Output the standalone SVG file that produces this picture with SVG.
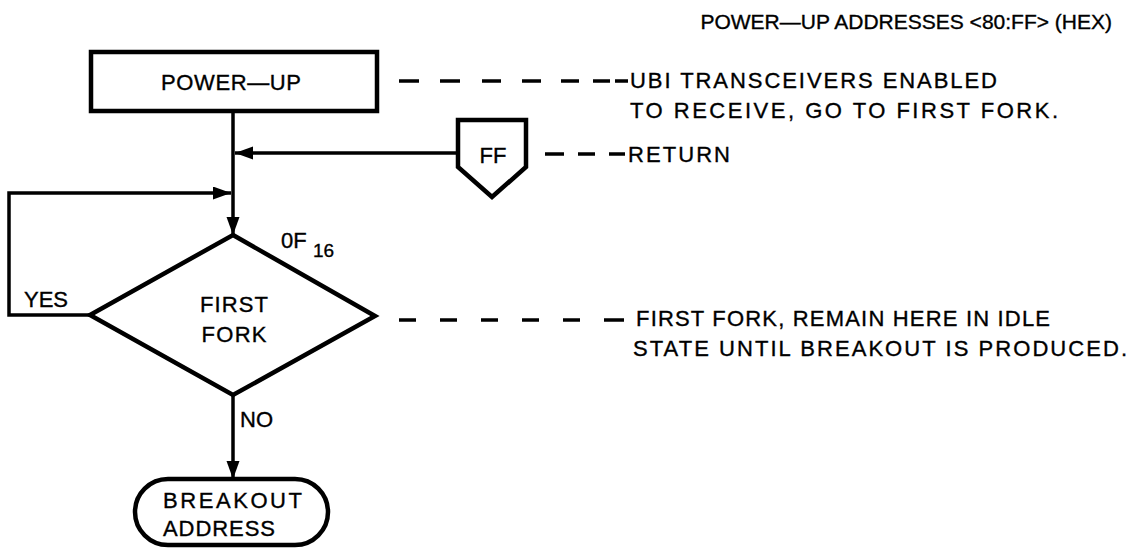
<svg xmlns="http://www.w3.org/2000/svg" width="1130" height="548" viewBox="0 0 1130 548">
<defs>
<marker id="ah" markerUnits="userSpaceOnUse" markerWidth="20" markerHeight="14" refX="18" refY="6.5" orient="auto">
<path d="M0,0 L18,6.5 L0,13 z" fill="#000"/>
</marker>
<style>
.t{font-family:"Liberation Sans",Arial,sans-serif;font-size:22px;fill:#000;stroke:#000;stroke-width:0.35}
.c{text-anchor:middle}
.shape{fill:#fff;stroke:#000;stroke-width:4.5;stroke-linejoin:miter}
.ln{fill:none;stroke:#000;stroke-width:3.5}
.dash{fill:none;stroke:#000;stroke-width:3.5}
</style>
</defs>
<rect width="1130" height="548" fill="#fff"/>

<text class="t" x="1112" y="29" text-anchor="end" style="font-size:21px">POWER—UP ADDRESSES &lt;80:FF&gt;  (HEX)</text>

<g id="connectors">
<path class="ln" d="M233,111 V235" marker-end="url(#ah)"/>
<path class="ln" d="M458,153 H235" marker-end="url(#ah)"/>
<path class="ln" d="M90,315 H9 V193 H231" marker-end="url(#ah)"/>
<path class="ln" d="M233,395 V479" marker-end="url(#ah)"/>
<path class="dash" d="M399,81 h20 M440,81 h20 M482,81 h19 M522,81 h19 M561,81 h18 M593,81 h17 M615,81 h13"/>
<path class="dash" d="M545,154 h19 M578,154 h17 M609,154 h16"/>
<path class="dash" d="M399,320 h17 M440,320 h17 M481,320 h17 M522,320 h17 M563,320 h17 M604,320 h20"/>
</g>

<g id="power-up">
<rect class="shape" x="91" y="52" width="286" height="59"/>
<text class="t c" x="231" y="90" textLength="140" lengthAdjust="spacing">POWER—UP</text>
</g>

<g id="note-power-up">
<text class="t" x="630" y="88" textLength="367" lengthAdjust="spacing">UBI TRANSCEIVERS ENABLED</text>
<text class="t" x="630" y="118" textLength="428" lengthAdjust="spacing">TO RECEIVE, GO TO FIRST FORK.</text>
</g>

<g id="ff">
<path class="shape" d="M458,120 H526 V167 L492,197 L458,167 Z"/>
<text class="t c" x="493" y="163">FF</text>
</g>

<g id="note-return">
<text class="t" x="628" y="162" textLength="102" lengthAdjust="spacing">RETURN</text>
</g>

<g id="first-fork">
<path class="shape" d="M233,235 L375,316 L233,395 L90,315 Z"/>
<text class="t c" x="234" y="312" textLength="68" lengthAdjust="spacing">FIRST</text>
<text class="t c" x="234" y="342" textLength="65" lengthAdjust="spacing">FORK</text>
<text class="t" x="281" y="248">0F</text>
<text class="t" x="313" y="257" style="font-size:19px">16</text>
<text class="t" x="24" y="307" textLength="44" lengthAdjust="spacing">YES</text>
<text class="t" x="240" y="427">NO</text>
</g>

<g id="note-first-fork">
<text class="t" x="636" y="326" textLength="414" lengthAdjust="spacing">FIRST FORK, REMAIN HERE IN  IDLE</text>
<text class="t" x="633" y="356" textLength="494" lengthAdjust="spacing">STATE UNTIL BREAKOUT IS PRODUCED.</text>
</g>

<g id="breakout">
<rect class="shape" x="135" y="479" width="193" height="66" rx="33" ry="33"/>
<text class="t" x="163" y="508" textLength="139" lengthAdjust="spacing">BREAKOUT</text>
<text class="t" x="163" y="536" textLength="112" lengthAdjust="spacing">ADDRESS</text>
</g>
</svg>
